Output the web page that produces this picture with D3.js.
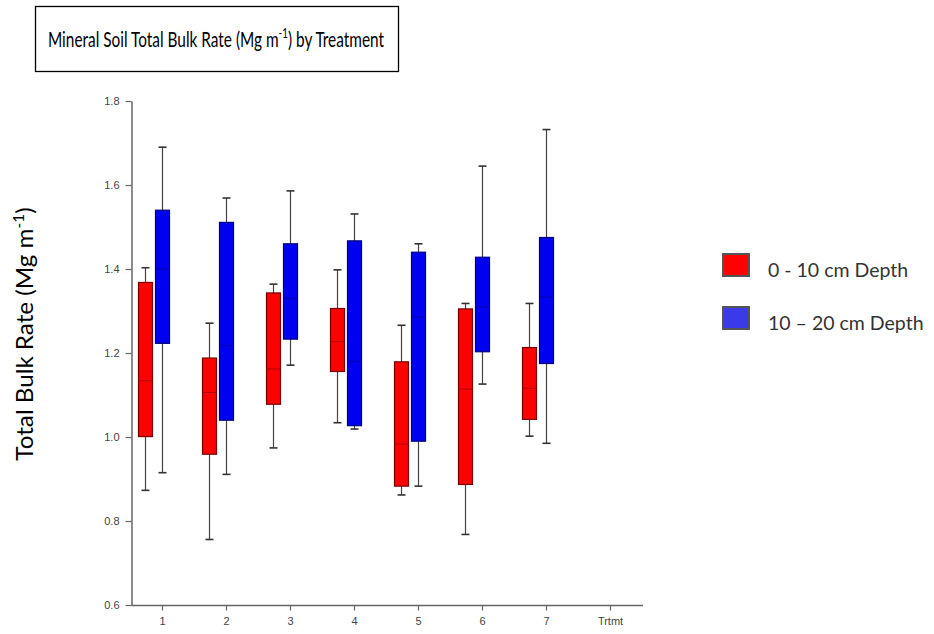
<!DOCTYPE html>
<html>
<head>
<meta charset="utf-8">
<script src="https://cdn.jsdelivr.net/npm/d3@7/dist/d3.min.js"></script>
<style>
  body { margin: 0; background: #fff; }
  svg { display: block; }
</style>
</head>
<body>
<svg id="chart" width="934" height="634"></svg>
<script>
// ---- data ----
const treatments = ["1", "2", "3", "4", "5", "6", "7"];
const xTickLabels = ["1", "2", "3", "4", "5", "6", "7", "Trtmt"];
const yTicks = [0.6, 0.8, 1.0, 1.2, 1.4, 1.6, 1.8];
const seriesNames = ["0 - 10 cm Depth", "10 \u2013 20 cm Depth"];
// [whiskerLow, q1, median, q3, whiskerHigh]
const shallow = [
  [0.873, 1.001, 1.134, 1.368, 1.403],
  [0.756, 0.959, 1.106, 1.188, 1.271],
  [0.974, 1.078, 1.162, 1.343, 1.364],
  [1.034, 1.156, 1.227, 1.306, 1.398],
  [0.862, 0.883, 0.983, 1.179, 1.266],
  [0.768, 0.887, 1.114, 1.305, 1.318],
  [1.002, 1.042, 1.116, 1.213, 1.318]
];
const deep = [
  [0.915, 1.223, 1.400, 1.540, 1.690],
  [0.911, 1.040, 1.217, 1.511, 1.569],
  [1.171, 1.233, 1.330, 1.460, 1.586],
  [1.019, 1.027, 1.180, 1.467, 1.531],
  [0.883, 0.990, 1.286, 1.440, 1.460],
  [1.126, 1.203, 1.310, 1.428, 1.645],
  [0.985, 1.175, 1.333, 1.475, 1.732]
];

// ---- layout ----
const svg = d3.select("#chart");
const y = d3.scaleLinear().domain([0.6, 1.8]).range([605, 101]);
const x = d3.scalePoint().domain(xTickLabels).range([162, 610]);
const axisLeftX = 131.5;
const axisBottomY = 605.5;
const boxW = 14;
const offsets = [-16.5, 0.5];
const fills = ["#ff0000", "#0000f0"];
const strokes = ["#7a0000", "#00007a"];
const medianColors = ["#b00000", "#0000a8"];
const font = "Lato, 'Open Sans', sans-serif";

// Title box
svg.append("rect").attr("x", 35.5).attr("y", 6.5).attr("width", 363).attr("height", 65)
  .attr("fill", "#fff").attr("stroke", "#000").attr("stroke-width", 1.3);
const title = svg.append("text").attr("transform", "translate(216,47) scale(0.70,1)")
  .attr("text-anchor", "middle")
  .attr("font-family", font).attr("font-size", 22).attr("fill", "#000");
title.append("tspan").text("Mineral Soil Total Bulk Rate (Mg m");
title.append("tspan").attr("dy", -9).attr("font-size", 14).text("-1");
title.append("tspan").attr("dy", 9).text(") by Treatment");

// Y title
const yt = svg.append("text").attr("transform", "translate(33,334) rotate(-90) scale(1.03,1)")
  .attr("text-anchor", "middle")
  .attr("font-family", font).attr("font-size", 23.5).attr("fill", "#000");
yt.append("tspan").text("Total Bulk Rate (Mg m");
yt.append("tspan").attr("dy", -9).attr("font-size", 15).text("-1");
yt.append("tspan").attr("dy", 9).text(")");

// Axes
const gy = svg.append("g").attr("transform", `translate(${axisLeftX},0)`)
  .call(d3.axisLeft(y).tickValues(yTicks).tickFormat(d3.format(".1f")).tickSize(6).tickPadding(6).tickSizeOuter(0));
const gx = svg.append("g").attr("transform", `translate(0,${axisBottomY})`)
  .call(d3.axisBottom(x).tickSize(5).tickSizeOuter(0));
gx.select(".domain").attr("d", `M${axisLeftX},0H643`);
[gy, gx].forEach(g => {
  g.select(".domain").attr("stroke", "#666").attr("stroke-width", 1.5);
  g.selectAll(".tick line").attr("stroke", "#666").attr("stroke-width", 1.2);
  g.selectAll(".tick text").attr("fill", "#444").attr("font-family", "Liberation Sans, Arial, sans-serif")
    .attr("font-size", 11);
});
gx.selectAll(".tick text").attr("dy", "1.0em");

// Boxes
[shallow, deep].forEach((series, s) => {
  const g = svg.append("g");
  series.forEach((d, i) => {
    const cx = x(treatments[i]) + offsets[s];
    g.append("line").attr("x1", cx).attr("x2", cx).attr("y1", y(d[0])).attr("y2", y(d[4]))
      .attr("stroke", "#444").attr("stroke-width", 1.2);
    [d[0], d[4]].forEach(v => {
      g.append("line").attr("x1", cx - 4).attr("x2", cx + 4).attr("y1", y(v)).attr("y2", y(v))
        .attr("stroke", "#333").attr("stroke-width", 1.6);
    });
    g.append("rect").attr("x", cx - boxW / 2).attr("y", y(d[3]))
      .attr("width", boxW).attr("height", y(d[1]) - y(d[3]))
      .attr("fill", fills[s]).attr("stroke", strokes[s]).attr("stroke-width", 1.2);
    g.append("line").attr("x1", cx - boxW / 2).attr("x2", cx + boxW / 2)
      .attr("y1", y(d[2])).attr("y2", y(d[2]))
      .attr("stroke", medianColors[s]).attr("stroke-width", 1);
  });
});

// Legend
const legY = [265, 318];
seriesNames.forEach((name, s) => {
  svg.append("rect").attr("x", 723).attr("y", legY[s] - 11).attr("width", 26).attr("height", 22)
    .attr("fill", s === 0 ? "#ff0000" : "#3a3ae8").attr("stroke", "#555").attr("stroke-width", 2);
  svg.append("text").attr("x", 768).attr("y", legY[s] + 12)
    .attr("font-family", font).attr("font-size", 19.5).attr("fill", "#333")
    .text(name);
});
</script>
</body>
</html>
